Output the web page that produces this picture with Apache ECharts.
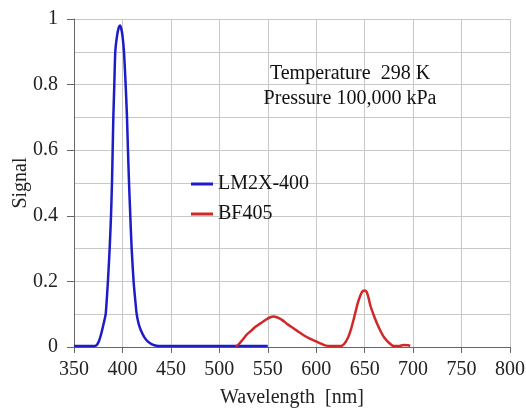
<!DOCTYPE html>
<html>
<head>
<meta charset="utf-8">
<style>html,body{margin:0;padding:0;background:#fff}#c{width:526px;height:416px}</style>
<script src="https://cdn.jsdelivr.net/npm/echarts@6/dist/echarts.min.js"></script>
</head>
<body>
<div id="c"></div>
<script>
var xTicks = [350, 400, 450, 500, 550, 600, 650, 700, 750, 800];
var yTicks = [0, 0.2, 0.4, 0.6, 0.8, 1];
var seriesNames = ['LM2X-400', 'BF405'];
var annotationLines = ['Temperature  298 K', 'Pressure 100,000 kPa'];

var blueWavelength = [350, 370, 373.4, 376, 378.5, 380.5, 382.7, 385, 386.8, 388.2, 389.2, 389.9, 390.6, 391.6, 392.6, 394.5, 396.3, 397.5, 398.8, 400, 401.6, 403.3, 404.7, 405.7, 406.8, 408.1, 409.5, 411.5, 413, 414.7, 416.8, 419.1, 422.5, 426, 430, 435.3, 445, 550];
var blueSignal    = [0.003, 0.003, 0.006, 0.02, 0.045, 0.07, 0.1, 0.2, 0.3, 0.4, 0.5, 0.6, 0.7, 0.8, 0.9, 0.95, 0.975, 0.98, 0.97, 0.95, 0.9, 0.8, 0.7, 0.6, 0.5, 0.4, 0.3, 0.2, 0.15, 0.1, 0.07, 0.05, 0.03, 0.017, 0.009, 0.004, 0.003, 0.003];

var redWavelength = [517, 520, 524, 528, 533, 538, 543, 548, 552, 556, 560, 565, 570, 575, 580, 587, 593, 600, 605, 609, 615, 625, 629, 633, 636, 640, 643, 646, 648, 650, 652, 654, 656, 659, 663, 667, 670, 675, 680, 686, 690, 695, 697];
var redSignal     = [0.002, 0.008, 0.022, 0.037, 0.05, 0.063, 0.073, 0.083, 0.09, 0.093, 0.09, 0.082, 0.07, 0.06, 0.05, 0.036, 0.026, 0.017, 0.01, 0.005, 0.003, 0.003, 0.01, 0.03, 0.055, 0.1, 0.135, 0.16, 0.17, 0.172, 0.168, 0.15, 0.125, 0.1, 0.07, 0.045, 0.03, 0.013, 0.003, 0.003, 0.006, 0.005, 0.003];

function pairs(xs, ys) { return xs.map(function (x, i) { return [x, ys[i]]; }); }

var FONT = '"Liberation Serif", "Times New Roman", serif';
var chart = echarts.init(document.getElementById('c'), null, { renderer: 'canvas' });
chart.setOption({
  animation: false,
  backgroundColor: '#ffffff',
  textStyle: { fontFamily: FONT },
  grid: { left: 74, right: 16, top: 19, bottom: 69, containLabel: false, outerBoundsMode: 'none' },
  title: {
    text: annotationLines.join('\n'),
    left: 350, top: 61, textAlign: 'center', padding: 0,
    textStyle: { fontFamily: FONT, fontSize: 20, fontWeight: 'normal', color: '#111', lineHeight: 25 }
  },
  legend: {
    orient: 'vertical', left: 191, top: 174, padding: 0,
    itemWidth: 22, itemHeight: 3, itemGap: 10, icon: 'rect',
    data: seriesNames,
    textStyle: { fontFamily: FONT, fontSize: 20, color: '#111', lineHeight: 20 }
  },
  xAxis: {
    type: 'value', min: xTicks[0], max: xTicks[xTicks.length - 1], interval: 50,
    name: 'Wavelength  [nm]', nameLocation: 'middle', nameGap: 41,
    nameTextStyle: { fontFamily: FONT, fontSize: 20, color: '#222' },
    axisLine: { show: true, onZero: false, lineStyle: { color: '#666', width: 1 } },
    axisTick: { show: true, length: 6, lineStyle: { color: '#666' } },
    axisLabel: { margin: 13, fontFamily: FONT, fontSize: 20, color: '#222',
      customValues: xTicks },
    splitLine: { show: true, lineStyle: { color: '#c8c8c8', width: 1 } }
  },
  yAxis: {
    type: 'value', min: 0, max: 1, interval: 0.2,
    name: 'Signal', nameLocation: 'middle', nameGap: 43, nameRotate: 90,
    nameMoveOverlap: false,
    nameTextStyle: { fontFamily: FONT, fontSize: 20, color: '#222' },
    axisLine: { show: true, lineStyle: { color: '#666', width: 1 } },
    axisTick: { show: true, length: 7, lineStyle: { color: '#666' } },
    minorTick: { show: false, splitNumber: 2 },
    minorSplitLine: { show: true, lineStyle: { color: '#c8c8c8', width: 1 } },
    axisLabel: { margin: 16, fontFamily: FONT, fontSize: 20, color: '#222',
      customValues: yTicks },
    splitLine: { show: true, lineStyle: { color: '#c8c8c8', width: 1 } }
  },
  series: [
    { name: seriesNames[0], type: 'line', symbol: 'none', smooth: 0.2,
      color: '#1c1cc8', lineStyle: { color: '#1c1cc8', width: 2.5 },
      data: pairs(blueWavelength, blueSignal) },
    { name: seriesNames[1], type: 'line', symbol: 'none', smooth: 0.2,
      color: '#d02828', lineStyle: { color: '#d02828', width: 2.5 },
      data: pairs(redWavelength, redSignal) }
  ]
});
</script>
</body>
</html>
